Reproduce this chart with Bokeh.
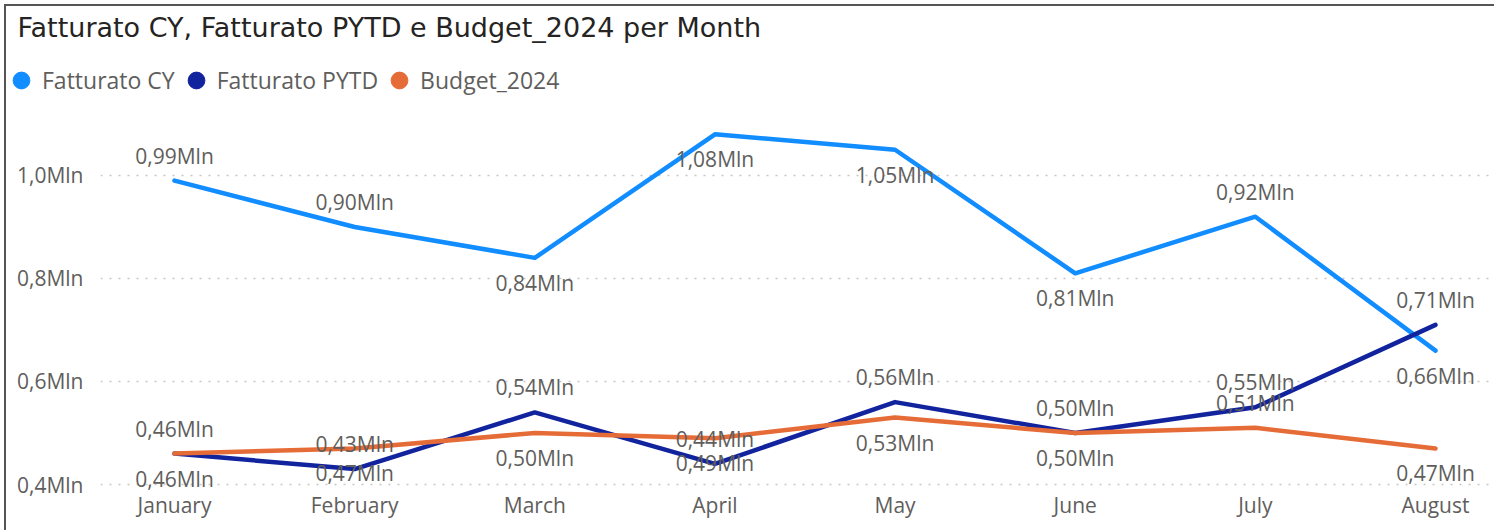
from bokeh.plotting import figure
from bokeh.layouts import column
from bokeh.models import Range1d, FixedTicker, Legend, LegendItem, Label
from bokeh.core.properties import value
from bokeh.embed import file_html
from bokeh.resources import INLINE

# ---- data ----
months = ["January", "February", "March", "April", "May", "June", "July", "August"]
fatturato_cy = [0.99, 0.90, 0.84, 1.08, 1.05, 0.81, 0.92, 0.66]
fatturato_pytd = [0.46, 0.43, 0.54, 0.44, 0.56, 0.50, 0.55, 0.71]
budget_2024 = [0.46, 0.47, 0.50, 0.49, 0.53, 0.50, 0.51, 0.47]
y_ticks = [0.4, 0.6, 0.8, 1.0]
y_tick_labels = ["0,4Mln", "0,6Mln", "0,8Mln", "1,0Mln"]
series_names = ["Fatturato CY", "Fatturato PYTD", "Budget_2024"]
title_text = "Fatturato CY, Fatturato PYTD e Budget_2024 per Month"

# label placement (style)
cy_side = ["above", "above", "below", "below", "below", "below", "above", "below"]
pytd_side = ["above"] * 8
budget_side = ["below", "below", "below", "below", "below", "below", "above", "below"]

COLORS = ["#118DFF", "#12239E", "#E66C37"]
FONT = "Open Sans"
TEXT_GRAY = "#605E5C"

W = 1488
HEAD_H = 98
MAIN_H = 426

# ---------- header (title + legend) ----------
head = figure(width=W, height=HEAD_H, x_range=Range1d(0, 1), y_range=Range1d(0, 1),
              x_axis_type=None, y_axis_type=None, output_backend="svg",
              toolbar_location=None, min_border=0,
              min_border_left=0, min_border_right=0, min_border_top=0, min_border_bottom=0)
head.outline_line_color = None
head.grid.visible = False
head.background_fill_color = "white"
head.border_fill_color = "white"

head.add_layout(Label(x=11, y=77, x_units="screen", y_units="screen", text=title_text,
                      text_font="DejaVu Sans", text_font_size="27px",
                      text_baseline="middle", text_color="#252423"))

items = []
for name, c in zip(series_names, COLORS):
    # single point placed outside the visible range: only provides the legend dot
    d = head.scatter([-5], [-5], marker="circle", size=17, fill_color=c, line_color=c)
    items.append(LegendItem(label=name, renderers=[d]))
legend = Legend(items=items, orientation="horizontal", location=(-6, 3),
                glyph_width=42, glyph_height=42, label_height=20, label_standoff=0,
                spacing=0, padding=0, margin=0, border_line_color=None,
                background_fill_alpha=0, label_text_font=FONT,
                label_text_font_size="23px", label_text_color=TEXT_GRAY,
                label_text_baseline="middle")
head.add_layout(legend)

# ---------- main chart ----------
p = figure(width=W, height=MAIN_H,
           x_range=Range1d(-0.4108, 7.3275), y_range=Range1d(0.38835, 1.1262),
           output_backend="svg", toolbar_location=None,
           min_border_left=94, min_border_right=0, min_border_top=6, min_border_bottom=40)
p.outline_line_color = None
p.background_fill_color = "white"
p.border_fill_color = "white"

for f in (head, p):
    if "frame_align" in f.properties():
        f.frame_align = False

xs = list(range(len(months)))
p.xaxis.ticker = FixedTicker(ticks=xs)
p.xaxis.major_label_overrides = {i: m for i, m in zip(xs, months)}
p.yaxis.ticker = FixedTicker(ticks=y_ticks)
p.yaxis.major_label_overrides = {t: l for t, l in zip(y_ticks, y_tick_labels)}
for ax in (p.xaxis, p.yaxis):
    ax.axis_line_color = None
    ax.major_tick_line_color = None
    ax.minor_tick_line_color = None
    ax.major_tick_out = 0
    ax.major_tick_in = 0
    ax.minor_tick_out = 0
    ax.major_label_text_font = FONT
    ax.major_label_text_font_size = "21px"
    ax.major_label_text_color = TEXT_GRAY
p.xaxis.major_label_standoff = 0
p.yaxis.major_label_standoff = 17

p.xgrid.visible = False
p.ygrid.grid_line_color = "#C8C6C4"
p.ygrid.grid_line_dash = "2 7"
p.ygrid.grid_line_width = 1.5

all_series = [fatturato_cy, fatturato_pytd, budget_2024]
all_sides = [cy_side, pytd_side, budget_side]
for ys, c in zip(all_series, COLORS):
    p.line(xs, ys, line_color=c, line_width=4.5, line_join="round", line_cap="round")

for ys, sides in zip(all_series, all_sides):
    texts = [f"{v:.2f}".replace(".", ",") + "Mln" for v in ys]
    offs = [-25 if s == "above" else 25 for s in sides]
    p.text(x=xs, y=ys, text=texts, y_offset=offs, text_align="center",
           text_baseline="middle", text_font=value(FONT), text_font_size="21px",
           text_color=TEXT_GRAY)

layout = column(head, p, spacing=0)
layout.styles = {"border-top": "2px solid #555555", "border-left": "2px solid #555555",
                 "margin-top": "4px", "margin-left": "4px"}

open("out.html", "w").write(file_html(layout, INLINE))
